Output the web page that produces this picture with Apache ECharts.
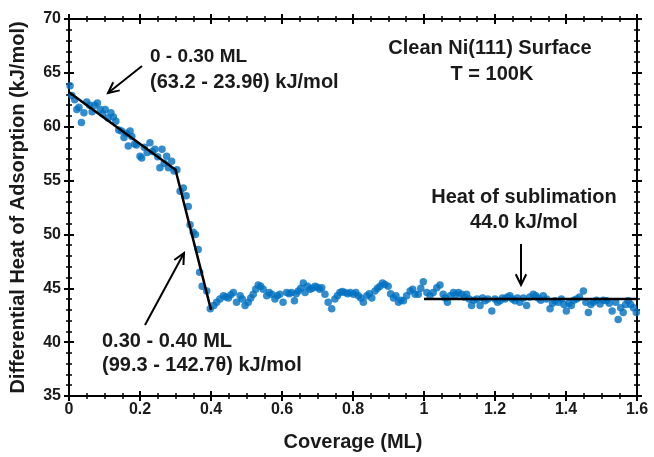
<!DOCTYPE html>
<html>
<head>
<meta charset="utf-8">
<script src="https://cdn.jsdelivr.net/npm/echarts@6/dist/echarts.min.js"></script>
<style>
  html, body { margin: 0; padding: 0; background: #fff; }
  #chart { width: 654px; height: 457px; }
</style>
</head>
<body>
<div id="chart"></div>
<script>
// measured points: coverage (ML) / differential heat (kJ/mol)
var coverage = [
  0.003, 0.008, 0.016, 0.022, 0.028, 0.035, 0.042, 0.05, 0.058, 0.065,
  0.072, 0.08, 0.088, 0.095, 0.102, 0.11, 0.118, 0.125, 0.132, 0.14,
  0.148, 0.155, 0.162, 0.167, 0.172, 0.177, 0.185, 0.19, 0.2, 0.205,
  0.212, 0.22, 0.228, 0.235, 0.242, 0.25, 0.256, 0.262, 0.268, 0.275,
  0.28, 0.289, 0.296, 0.304,
  0.313, 0.322, 0.33, 0.336, 0.341, 0.35, 0.356, 0.364, 0.368, 0.375,
  0.388, 0.398,
  0.408, 0.416, 0.425, 0.435, 0.442, 0.449, 0.456, 0.463, 0.472, 0.482,
  0.488, 0.496, 0.505, 0.512, 0.519, 0.526, 0.533, 0.54, 0.547, 0.557,
  0.564, 0.571, 0.58, 0.587, 0.594, 0.603, 0.613, 0.62, 0.627, 0.635,
  0.64, 0.646, 0.653, 0.66, 0.665, 0.672, 0.679, 0.686, 0.693, 0.7,
  0.706, 0.712, 0.721, 0.73, 0.74, 0.749, 0.756, 0.763, 0.77, 0.777,
  0.785, 0.792, 0.801, 0.808, 0.815, 0.822, 0.829, 0.839, 0.846, 0.853,
  0.862, 0.869, 0.876, 0.883, 0.89, 0.899, 0.906, 0.914, 0.921, 0.928,
  0.935, 0.942, 0.951, 0.961, 0.968, 0.975, 0.984, 0.991, 0.998, 1.008,
  1.017, 1.026, 1.036, 1.045, 1.054, 1.06, 1.066, 1.074, 1.083, 1.09,
  1.097, 1.106, 1.113, 1.12, 1.127, 1.134, 1.141, 1.149, 1.158, 1.165,
  1.172, 1.18, 1.191, 1.2, 1.207, 1.214, 1.221, 1.228, 1.235, 1.242,
  1.249, 1.256, 1.263, 1.27, 1.28, 1.289, 1.298, 1.308, 1.315, 1.322,
  1.329, 1.336, 1.345, 1.355, 1.362, 1.369, 1.378, 1.387, 1.394, 1.401,
  1.408, 1.415, 1.422, 1.43, 1.438, 1.449, 1.456, 1.463, 1.47, 1.477,
  1.486, 1.496, 1.505, 1.514, 1.522, 1.53, 1.54, 1.547, 1.554, 1.561,
  1.568, 1.575, 1.582, 1.59, 1.598
];
var heat = [
  63.8, 62.9, 62.5, 61.6, 61.8, 60.4, 61.3, 62.3, 62.0, 61.4,
  62.0, 62.2, 61.6, 61.2, 61.6, 60.8, 61.3, 60.9, 60.5, 59.7,
  59.6, 59.0, 59.4, 58.2, 59.6, 59.1, 58.4, 58.3, 57.25, 57.1,
  58.1, 57.6, 58.5, 57.7, 57.9, 57.2, 56.2, 57.9, 56.6, 57.25,
  56.2, 56.8, 55.9, 56.0,
  54.0, 54.3, 53.6, 52.6, 50.9, 50.2, 50.0, 48.6, 46.5, 45.2,
  44.75, 43.1,
  43.4, 43.7, 44.0, 44.3, 44.2, 44.1, 44.4, 44.6, 43.7, 44.3,
  44.0, 43.4, 43.7, 44.1, 44.45, 44.9, 45.3, 45.2, 44.9, 44.3,
  44.6, 44.45, 44.0, 44.3, 44.45, 43.7, 44.6, 44.5, 44.6, 43.85,
  44.5, 44.75, 45.0, 45.5, 44.6, 45.2, 44.9, 45.0, 45.2, 45.1,
  44.9, 45.05, 44.45, 43.7, 43.1, 44.0, 44.3, 44.6, 44.7, 44.6,
  44.5, 44.6, 44.45, 44.6, 44.3, 44.1, 43.7, 44.3, 44.5, 44.1,
  44.75, 45.0, 45.2, 45.5, 45.35, 45.2, 44.5, 44.1, 44.3, 43.7,
  43.9, 43.85, 44.3, 44.75, 44.9, 44.45, 44.45, 45.0, 45.6, 44.6,
  44.3, 44.6, 45.05, 45.3, 44.45, 44.1, 43.7, 44.3, 44.6, 44.4,
  44.6, 44.45, 44.2, 44.45, 44.0, 43.4, 43.9, 44.0, 43.4, 44.1,
  43.85, 44.0, 42.9, 44.0, 43.7, 43.85, 44.1, 44.0, 44.2, 44.3,
  44.0, 43.85, 44.1, 43.7, 44.1, 43.4, 44.2, 44.45, 44.3, 44.1,
  43.9, 44.3, 44.0, 43.1, 43.6, 43.85, 43.7, 44.0, 43.5, 42.9,
  43.6, 43.4, 43.9, 44.0, 44.2, 44.75, 43.7, 42.75, 43.5, 43.7,
  43.9, 43.55, 43.9, 43.85, 43.6, 42.9, 43.7, 42.1, 43.2, 42.75,
  43.5, 43.85, 43.5, 43.2, 42.75
];

// fitted lines
var fitCov = [0, 0.30, 0.40];
var fitHeat = [63.2, 56.0, 43.0];
var sublCov = [1.0, 1.6];
var sublHeat = [44.0, 44.0];

var xTicks = ['0', '0.2', '0.4', '0.6', '0.8', '1', '1.2', '1.4', '1.6'];

var pts = coverage.map(function (c, i) { return [c, heat[i]]; });
var fitPts = fitCov.map(function (c, i) { return [c, fitHeat[i]]; });
var sublPts = sublCov.map(function (c, i) { return [c, sublHeat[i]]; });

var FONT = '"Liberation Sans", Arial, sans-serif';
var TXT = '#1a1a1a';

function xAx(pos, inside, showLabel) {
  return {
    type: 'value', position: pos, min: 0, max: 1.6, interval: 0.2,
    axisLine: { show: true, onZero: false, lineStyle: { color: '#000', width: 2 } },
    axisTick: { show: true, inside: inside, length: 5, lineStyle: { color: '#000', width: 2 } },
    minorTick: { show: true, splitNumber: 4, length: 3, lineStyle: { color: '#000', width: 1.5 } },
    splitLine: { show: false },
    axisLabel: {
      show: showLabel, margin: 6, color: TXT, fontFamily: FONT, fontWeight: 'bold', fontSize: 16,
      formatter: function (v) { return xTicks[Math.round(v / 0.2)]; }
    }
  };
}
function yAx(pos, inside, showLabel) {
  return {
    type: 'value', position: pos, min: 35, max: 70, interval: 5,
    axisLine: { show: true, onZero: false, lineStyle: { color: '#000', width: 2 } },
    axisTick: { show: true, inside: inside, length: 5, lineStyle: { color: '#000', width: 2 } },
    minorTick: { show: true, splitNumber: 5, length: 3, lineStyle: { color: '#000', width: 1.5 } },
    splitLine: { show: false },
    axisLabel: { show: showLabel, margin: 8, color: TXT, fontFamily: FONT, fontWeight: 'bold', fontSize: 16 }
  };
}

function arrow(x1, y1, x2, y2) {
  var a = Math.atan2(y2 - y1, x2 - x1), L = 12, w = 0.45;
  var p1 = [x2 - L * Math.cos(a - w), y2 - L * Math.sin(a - w)];
  var p2 = [x2 - L * Math.cos(a + w), y2 - L * Math.sin(a + w)];
  var st = { stroke: '#000', lineWidth: 2, fill: null };
  return [
    { type: 'line', shape: { x1: x1, y1: y1, x2: x2, y2: y2 }, style: st, z: 10 },
    { type: 'polyline', shape: { points: [p1, [x2, y2], p2] }, style: st, z: 10 }
  ];
}
function label(x, y, text, align, size) {
  return {
    type: 'text', x: x, y: y, z: 10,
    style: { text: text, fill: TXT, font: 'bold ' + (size || 20) + 'px ' + FONT, textAlign: align || 'left', textVerticalAlign: 'middle' }
  };
}

var chart = echarts.init(document.getElementById('chart'));
var graphics = []
  .concat(arrow(142, 66, 108, 93))
  .concat(arrow(145, 325, 184, 253))
  .concat(arrow(521, 244, 521, 285))
  .concat([
    label(490, 48, 'Clean Ni(111) Surface', 'center', 20),
    label(492, 74, 'T = 100K', 'center', 20),
    label(150, 57, '0 - 0.30 ML', 'left', 19),
    label(150, 82, '(63.2 - 23.9\u03b8) kJ/mol', 'left', 20),
    label(524, 197, 'Heat of sublimation', 'center', 20),
    label(524, 222, '44.0 kJ/mol', 'center', 20),
    label(102, 341, '0.30 - 0.40 ML', 'left', 20),
    label(102, 365, '(99.3 - 142.7\u03b8) kJ/mol', 'left', 20)
  ]);

chart.setOption({
  backgroundColor: '#fff',
  animation: false,
  grid: { left: 69, right: 17, top: 19, bottom: 60 },
  xAxis: [
    Object.assign(xAx('bottom', false, true), {
      name: 'Coverage (ML)', nameLocation: 'middle', nameGap: 36,
      nameTextStyle: { color: TXT, fontFamily: FONT, fontWeight: 'bold', fontSize: 20 }
    }),
    xAx('bottom', true, false),
    xAx('top', true, false),
    xAx('top', false, false)
  ],
  yAxis: [
    Object.assign(yAx('left', false, true), {
      name: 'Differential Heat of Adsorption (kJ/mol)', nameLocation: 'middle', nameGap: 41,
      nameTextStyle: { color: TXT, fontFamily: FONT, fontWeight: 'bold', fontSize: 20 }
    }),
    yAx('left', true, false),
    yAx('right', true, false),
    yAx('right', false, false)
  ],
  series: [
    {
      type: 'scatter', data: pts, symbolSize: 7.5,
      itemStyle: { color: '#0070C0' }, z: 2
    },
    {
      type: 'line', data: fitPts, symbol: 'none',
      lineStyle: { color: '#000', width: 2.5 }, z: 3
    },
    {
      type: 'line', data: sublPts, symbol: 'none',
      lineStyle: { color: '#000', width: 2.5 }, z: 3
    }
  ],
  graphic: graphics
});
</script>
</body>
</html>
